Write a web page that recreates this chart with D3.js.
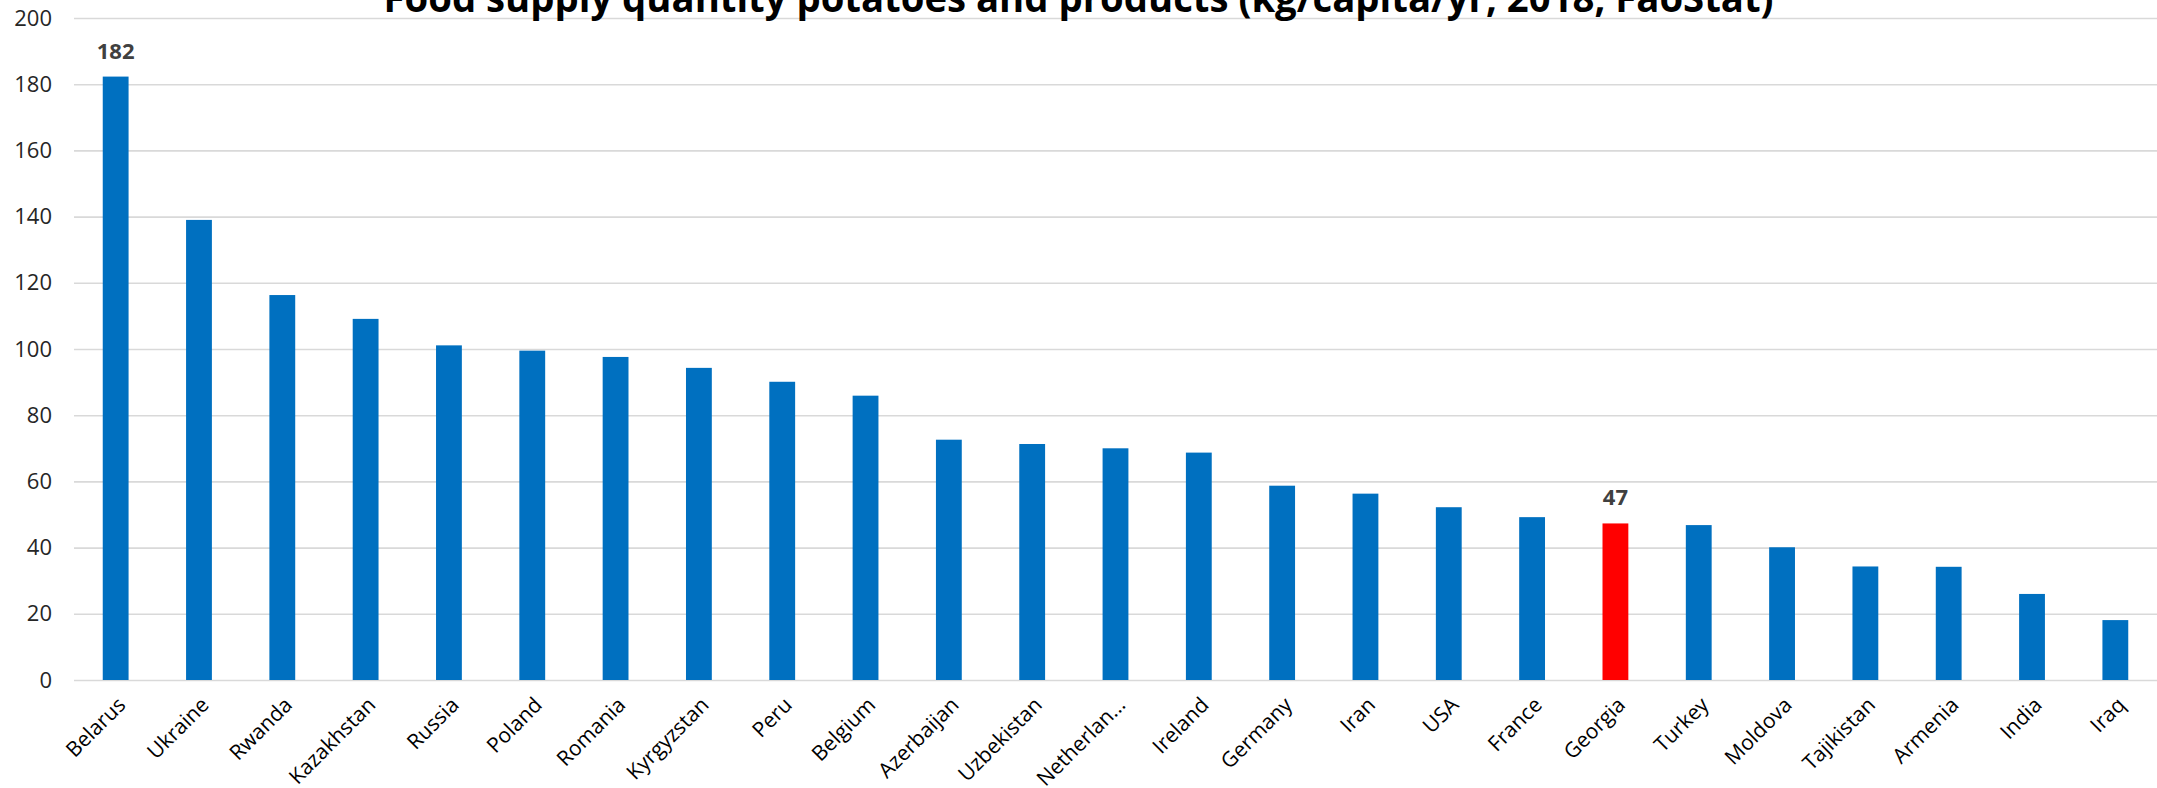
<!DOCTYPE html>
<html>
<head>
<meta charset="utf-8">
<script src="https://cdn.jsdelivr.net/npm/d3@7"></script>
<style>
  html, body { margin: 0; padding: 0; background: #fff; }
  svg { display: block; }
</style>
</head>
<body>
<div id="chart"></div>
<script>
const countries = ["Belarus", "Ukraine", "Rwanda", "Kazakhstan", "Russia", "Poland", "Romania",
  "Kyrgyzstan", "Peru", "Belgium", "Azerbaijan", "Uzbekistan", "Netherlan...", "Ireland",
  "Germany", "Iran", "USA", "France", "Georgia", "Turkey", "Moldova", "Tajikistan",
  "Armenia", "India", "Iraq"]
const supply = [182.3, 139, 116.3, 109.1, 101.1, 99.5, 97.6, 94.3, 90.1, 85.9, 72.6, 71.3,
  70, 68.7, 58.7, 56.3, 52.2, 49.2, 47.3, 46.8, 40.1, 34.3, 34.2, 26, 18.1]
const highlighted = ["Georgia"]
const labelled = ["Belarus", "Georgia"]
const yTicks = [0, 20, 40, 60, 80, 100, 120, 140, 160, 180, 200]
const title = "Food supply quantity potatoes and products (kg/capita/yr, 2018, FaoStat)"

const width = 2157, height = 788
const margin = { top: 18, right: 0, bottom: 108, left: 74 }

const data = countries.map((name, i) => ({ name, value: supply[i] }))

const svg = d3.select("#chart")
    .append("svg")
    .attr("width", width)
    .attr("height", height)

const x = d3.scaleBand()
    .domain(countries)
    .range([margin.left, width - margin.right])
    .paddingInner(0.69)
    .paddingOuter(0.345)

const y = d3.scaleLinear()
    .domain([0, 200])
    .range([height - margin.bottom, margin.top])

// gridlines + y labels
const yAxis = svg.append("g")
    .attr("transform", `translate(${margin.left}, 0)`)
    .call(d3.axisLeft(y)
        .tickValues(yTicks)
        .tickSize(-(width - margin.left - margin.right))
        .tickSizeOuter(0)
        .tickPadding(22))

yAxis.select(".domain").remove()
yAxis.selectAll(".tick line")
    .attr("stroke", "#d9d9d9")
    .attr("stroke-width", 1.6)
yAxis.selectAll(".tick text")
    .attr("font-family", "'Open Sans', sans-serif")
    .attr("font-size", "22px")
    .attr("fill", "#262626")

svg.append("g")
    .selectAll("rect")
    .data(data)
    .join("rect")
    .attr("x", d => x(d.name))
    .attr("y", d => y(d.value))
    .attr("width", x.bandwidth())
    .attr("height", d => y(0) - y(d.value))
    .attr("fill", d => highlighted.includes(d.name) ? "#ff0000" : "#0070c0")

// value labels on chosen bars
svg.append("g")
    .selectAll("text")
    .data(data.filter(d => labelled.includes(d.name)))
    .join("text")
    .attr("x", d => x(d.name) + x.bandwidth() / 2)
    .attr("y", d => y(d.value) - 18)
    .attr("text-anchor", "middle")
    .attr("font-family", "'Open Sans', sans-serif")
    .attr("font-weight", "bold")
    .attr("font-size", "22px")
    .attr("fill", "#404040")
    .text(d => Math.round(d.value))

// category labels, rotated
svg.append("g")
    .selectAll("text")
    .data(countries)
    .join("text")
    .attr("transform", d => `translate(${x(d) + x.bandwidth() / 2 + 6}, 701) rotate(-45)`)
    .attr("dy", "0.35em")
    .attr("text-anchor", "end")
    .attr("font-family", "'Open Sans', sans-serif")
    .attr("font-size", "21px")
    .attr("fill", "#000")
    .text(d => d)

svg.append("text")
    .attr("x", width / 2)
    .attr("y", 12)
    .attr("text-anchor", "middle")
    .attr("font-family", "'Liberation Sans Narrow', 'Open Sans', sans-serif")
    .attr("font-weight", "bold")
    .attr("font-size", "40px")
    .attr("textLength", 1390)
    .attr("lengthAdjust", "spacingAndGlyphs")
    .attr("fill", "#000")
    .text(title)
</script>
</body>
</html>
